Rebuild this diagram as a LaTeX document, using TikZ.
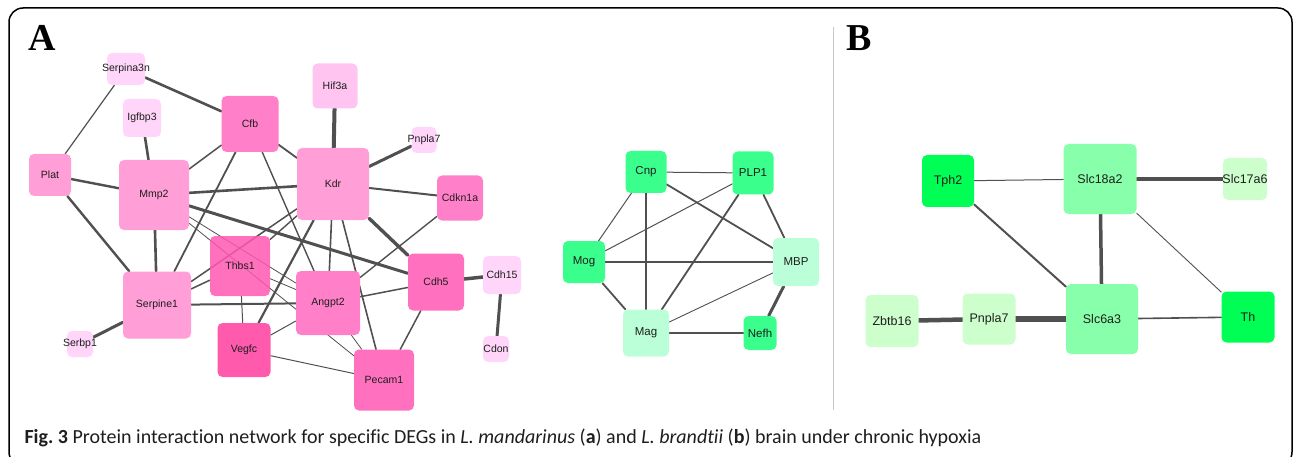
\documentclass[tikz,border=0pt]{standalone}
\usepackage{fontspec}
\setmainfont{Liberation Sans}
\newfontfamily\capfont[Ligatures=NoCommon]{Carlito}
\newfontfamily\panelfont{Liberation Serif}
\usepackage{tikz}
\usetikzlibrary{backgrounds}
\definecolor{pinkxl}{RGB}{255,214,250}
\definecolor{pinkl}{RGB}{255,196,240}
\definecolor{pinkm}{RGB}{255,158,215}
\definecolor{pinkd}{RGB}{255,128,200}
\definecolor{pinkdd}{RGB}{255,112,190}
\definecolor{pinkddx}{RGB}{255,87,178}
\definecolor{pinkv}{RGB}{255,90,172}
\definecolor{greena}{RGB}{58,255,140}
\definecolor{minta}{RGB}{186,255,216}
\definecolor{greenb}{RGB}{0,255,85}
\definecolor{greenm}{RGB}{136,255,170}
\definecolor{greenl}{RGB}{204,255,204}
\definecolor{edgegray}{RGB}{80,80,80}
\definecolor{inkgray}{RGB}{30,30,30}

\begin{document}
\begin{tikzpicture}[x=1pt,y=-1pt,
  gene/.style={rectangle,rounded corners=5pt,inner sep=0pt,draw=none},
  see/.style={fill opacity=0.85},
  labA/.style={font=\fontsize{10.5}{12}\selectfont,text=inkgray},
  labG/.style={font=\fontsize{11.5}{13}\selectfont,text=inkgray},
  labB/.style={font=\fontsize{12.5}{14}\selectfont,text=inkgray},
  edge/.style={draw=edgegray,line cap=round}]
  \useasboundingbox (0,0) rectangle (1295,457);
  % frame and divider
  \draw[line width=1.5pt,rounded corners=14pt] (9,8) rectangle (1292,466);
  \draw[black!22,line width=1pt] (833,27) -- (833,410);
  \node[font=\panelfont\bfseries\fontsize{38}{40}\selectfont] (panelA) at (42,38) {A};
  \node[font=\panelfont\bfseries\fontsize{38}{40}\selectfont] (panelB) at (859,38) {B};

  % network A, pink part
  \foreach \n/\x/\y/\w/\h/\c/\t in {
    serpina3n/126/69/38/32/pinkxl/Serpina3n, hif3a/335/86/45/45/pinkl/Hif3a,
    igfbp3/142/118/38/38/pinkxl/Igfbp3, cfb/250/124/57/56/pinkd/Cfb,
    pnplaA/424/140/25/26/pinkxl/Pnpla7, plat/50/175/42/42/pinkm/Plat,
    mmp2/154/195/70/70/pinkm/Mmp2, kdr/333/184/72/72/pinkm/Kdr,
    cdkn1a/460/198/46/45/pinkd/Cdkn1a, serpine1/157/305/68/67/pinkm/Serpine1,
    angpt2/328/303/64/64/pinkd/Angpt2, cdh5/436/282/56/57/pinkdd/Cdh5,
    cdh15/502/275/38/38/pinkxl/Cdh15, cdon/496/349/26/26/pinkxl/Cdon,
    serbp1/80/344/26/26/pinkxl/Serbp1, vegfc/244/350/53/54/pinkv/Vegfc,
    pecam1/384/380/60/61/pinkdd/Pecam1
  } {
    \node[gene,fill=\c,minimum width=\w,minimum height=\h,label={[labA]center:\t}] (\n) at (\x,\y) {};
  }
  \node[gene,see,fill=pinkddx,minimum width=60,minimum height=60,label={[labA]center:Thbs1}] (thbs1) at (240,266) {};

  % network A, green part
  \foreach \n/\x/\y/\w/\h/\c/\t in {
    cnp/646/172/41/42/greena/Cnp, plp1/753/173/41/43/greena/PLP1,
    mog/584/262/42/42/greena/Mog, mbp/796/262/46/48/minta/MBP,
    mag/646/333/46/47/minta/Mag, nefh/760/333/33/34/greena/Nefh
  } {
    \node[gene,fill=\c,minimum width=\w,minimum height=\h,label={[labG]center:\t}] (\n) at (\x,\y) {};
  }

  % network B
  \foreach \n/\x/\y/\w/\h/\c/\t in {
    tph2/948/181/52/52/greenb/Tph2, slc18a2/1100/179/73/70/greenm/Slc18a2,
    slc17a6/1245/179/44/42/greenl/Slc17a6, zbtb16/892/321/53/52/greenl/Zbtb16,
    pnplaB/989/319/53/51/greenl/Pnpla7, slc6a3/1102/319/72/70/greenm/Slc6a3,
    th/1248/317/53/51/greenb/Th
  } {
    \node[gene,fill=\c,minimum width=\w,minimum height=\h,label={[labB]center:\t}] (\n) at (\x,\y) {};
  }

  \begin{pgfonlayer}{background}
    \foreach \a/\b/\lw in {
      serpina3n/plat/1.2, serpina3n/cfb/2.6, igfbp3/mmp2/2.6, hif3a/kdr/4,
      pnplaA/kdr/3, plat/mmp2/2.4, plat/serpine1/2.4, mmp2/cfb/1.5,
      cfb/kdr/1.8, mmp2/kdr/2.6, kdr/cdkn1a/2, mmp2/cdh5/3,
      cfb/serpine1/1.8, cfb/angpt2/1.4, kdr/cdh5/3.4, cdkn1a/angpt2/1.4,
      mmp2/serpine1/2.6, serpine1/serbp1/3, serpine1/thbs1/1.5, serpine1/kdr/1.5,
      serpine1/angpt2/2, kdr/thbs1/1.4, kdr/angpt2/1.6, kdr/pecam1/1.6,
      vegfc/kdr/2.2, thbs1/vegfc/1, vegfc/angpt2/1, vegfc/pecam1/1,
      mmp2/angpt2/0.8, mmp2/pecam1/0.8, thbs1/angpt2/0.8, angpt2/pecam1/0.8,
      angpt2/cdh5/1.5, cdh5/pecam1/1.5, cdh5/cdh15/3.5, cdh15/cdon/3,
      cnp/plp1/1, cnp/mog/1, cnp/mag/1.8, cnp/mbp/1.8, plp1/mog/1,
      plp1/mag/1.8, plp1/mbp/1.8, mog/mbp/1.8, mog/mag/1.8, mbp/mag/0.9,
      mbp/nefh/3, mag/nefh/2.8,
      tph2/slc18a2/1, slc18a2/slc17a6/3.5, tph2/slc6a3/2, slc18a2/slc6a3/3.5,
      slc18a2/th/0.9, zbtb16/pnplaB/4.5, pnplaB/slc6a3/5.5, slc6a3/th/1.6
    } {
      \draw[edge,line width=\lw] (\a) -- (\b);
    }
  \end{pgfonlayer}

  \node[anchor=base west,text=inkgray,font=\capfont\fontsize{20}{22}\selectfont] (caption) at (21,443)
    {\textbf{Fig.\ 3} Protein interaction network for specific DEGs in \textit{L.\ mandarinus} (\textbf{a}) and \textit{L.\ brandtii} (\textbf{b}) brain under chronic hypoxia};
\end{tikzpicture}
\end{document}
